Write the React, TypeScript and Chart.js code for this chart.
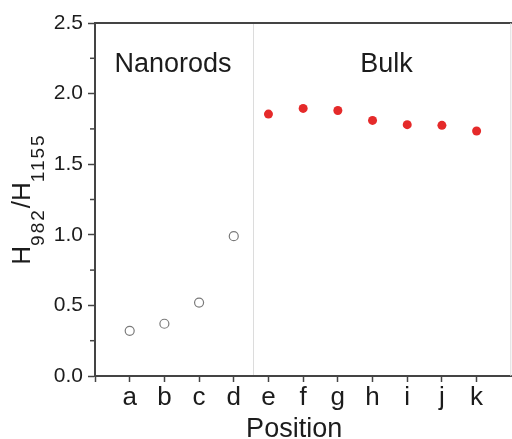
import React, { useEffect, useRef } from 'react';
import { Chart, registerables } from 'chart.js';

Chart.register(...registerables);

const FONT = '"Liberation Sans", Arial, Helvetica, sans-serif';
Chart.defaults.font.family = FONT;

// ---- data ----
const positionLabels = ['a', 'b', 'c', 'd', 'e', 'f', 'g', 'h', 'i', 'j', 'k'];
const nanorodPositions = [1, 2, 3, 4];
const nanorodValues = [0.32, 0.37, 0.52, 0.99];
const bulkPositions = [5, 6, 7, 8, 9, 10, 11];
const bulkValues = [1.855, 1.895, 1.88, 1.81, 1.78, 1.775, 1.735];
const yTicks = [0, 0.5, 1.0, 1.5, 2.0, 2.5];
const yMinorTicks = [0.25, 0.75, 1.25, 1.75, 2.25];
const regionLabels = ['Nanorods', 'Bulk'];
const regionLabelX = [2.25, 8.4];
const regionLabelY = 2.15;
const separatorX = 4.55;
const xTitle = 'Position';
const yTitleMain = ['H', '/', 'H'];
const yTitleSubs = ['982', '', '1155'];

const decorPlugin = {
  id: 'decor',
  afterDraw(chart: any) {
    const { ctx, chartArea } = chart;
    const xs = chart.scales.x;
    const ys = chart.scales.y;
    ctx.save();
    // top border
    ctx.strokeStyle = '#444';
    ctx.lineWidth = 2;
    ctx.beginPath();
    ctx.moveTo(chartArea.left - 1, chartArea.top);
    ctx.lineTo(chartArea.right + 1, chartArea.top);
    ctx.stroke();
    // right border (faint)
    ctx.strokeStyle = '#dcdcdc';
    ctx.lineWidth = 1;
    ctx.beginPath();
    ctx.moveTo(chartArea.right - 0.5, chartArea.top);
    ctx.lineTo(chartArea.right - 0.5, chartArea.bottom);
    ctx.stroke();
    // separator
    const sx = Math.round(xs.getPixelForValue(separatorX)) + 0.5;
    ctx.beginPath();
    ctx.moveTo(sx, chartArea.top + 1);
    ctx.lineTo(sx, chartArea.bottom - 1);
    ctx.stroke();
    // y minor ticks
    ctx.strokeStyle = '#444';
    ctx.lineWidth = 1.5;
    yMinorTicks.forEach((v) => {
      const py = ys.getPixelForValue(v);
      ctx.beginPath();
      ctx.moveTo(chartArea.left - 5, py);
      ctx.lineTo(chartArea.left, py);
      ctx.stroke();
    });
    // region labels
    ctx.fillStyle = '#1c1c1c';
    ctx.font = `27px ${FONT}`;
    ctx.textAlign = 'center';
    ctx.textBaseline = 'alphabetic';
    regionLabels.forEach((t, i) => {
      ctx.fillText(t, xs.getPixelForValue(regionLabelX[i]), ys.getPixelForValue(regionLabelY));
    });
    // x title
    ctx.fillText(xTitle, (chartArea.left + chartArea.right) / 2 - 9, 437);
    // y title
    const mainFont = `26px ${FONT}`;
    const subFont = `19px ${FONT}`;
    const parts: { t: string; sub: boolean }[] = [];
    yTitleMain.forEach((m, i) => {
      parts.push({ t: m, sub: false });
      if (yTitleSubs[i]) parts.push({ t: yTitleSubs[i], sub: true });
    });
    const widths = parts.map((p) => {
      ctx.font = p.sub ? subFont : mainFont;
      (ctx as any).letterSpacing = p.sub ? '2px' : '0px';
      return ctx.measureText(p.t).width;
    });
    const total = widths.reduce((a, b) => a + b, 0);
    const cy = 199;
    ctx.translate(30, cy + total / 2);
    ctx.rotate(-Math.PI / 2);
    ctx.textAlign = 'left';
    let x = 0;
    parts.forEach((p, i) => {
      ctx.font = p.sub ? subFont : mainFont;
      (ctx as any).letterSpacing = p.sub ? '2px' : '0px';
      ctx.fillText(p.t, x, p.sub ? 14 : 0);
      x += widths[i];
    });
    (ctx as any).letterSpacing = '0px';
    ctx.restore();
  },
};

export default function App() {
  const ref = useRef<HTMLCanvasElement | null>(null);
  useEffect(() => {
    if (!ref.current) return;
    const chart = new Chart(ref.current, {
      type: 'scatter',
      data: {
        datasets: [
          {
            label: 'Nanorods',
            data: nanorodPositions.map((x, i) => ({ x, y: nanorodValues[i] })),
            pointRadius: 4.5,
            pointBorderWidth: 1.2,
            pointBorderColor: '#7a7a7a',
            pointBackgroundColor: 'rgba(255,255,255,0)',
          },
          {
            label: 'Bulk',
            data: bulkPositions.map((x, i) => ({ x, y: bulkValues[i] })),
            pointRadius: 4.5,
            pointBorderWidth: 0,
            pointBorderColor: '#e52a2a',
            pointBackgroundColor: '#e52a2a',
          },
        ],
      },
      options: {
        responsive: false,
        animation: false,
        events: [],
        layout: { padding: { top: 23, right: 1, left: 0, bottom: 0 } },
        plugins: { legend: { display: false }, tooltip: { enabled: false } },
        scales: {
          x: {
            type: 'linear',
            min: 0,
            max: 12,
            afterBuildTicks: (s: any) => {
              s.ticks = [0, ...positionLabels.map((_, i) => i + 1)].map((v) => ({ value: v }));
            },
            afterFit: (s: any) => {
              s.height = 63;
            },
            ticks: {
              callback: (v: any) => positionLabels[Number(v) - 1] ?? '',
              font: { size: 26 },
              color: '#1c1c1c',
              padding: 0,
              autoSkip: false,
              maxRotation: 0,
            },
            grid: { drawOnChartArea: false, drawTicks: true, tickLength: 6, tickWidth: 1.5, tickColor: '#444' },
            border: { display: true, color: '#444', width: 2 },
          },
          y: {
            type: 'linear',
            min: 0,
            max: 2.5,
            afterBuildTicks: (s: any) => {
              s.ticks = yTicks.map((v) => ({ value: v }));
            },
            afterFit: (s: any) => {
              s.width = 95;
            },
            ticks: {
              callback: (v: any) => Number(v).toFixed(1),
              font: { size: 21 },
              color: '#1c1c1c',
              padding: 5,
            },
            grid: { drawOnChartArea: false, drawTicks: true, tickLength: 7, tickWidth: 1.5, tickColor: '#444' },
            border: { display: true, color: '#444', width: 2 },
          },
        },
      },
      plugins: [decorPlugin],
    } as any);
    return () => chart.destroy();
  }, []);
  return (
    <div style={{ position: 'absolute', left: 0, top: 0, width: 512, height: 439, background: '#fff', overflow: 'hidden' }}>
      <canvas ref={ref} width={517} height={439} style={{ width: 517, height: 439, display: 'block' }} />
    </div>
  );
}
